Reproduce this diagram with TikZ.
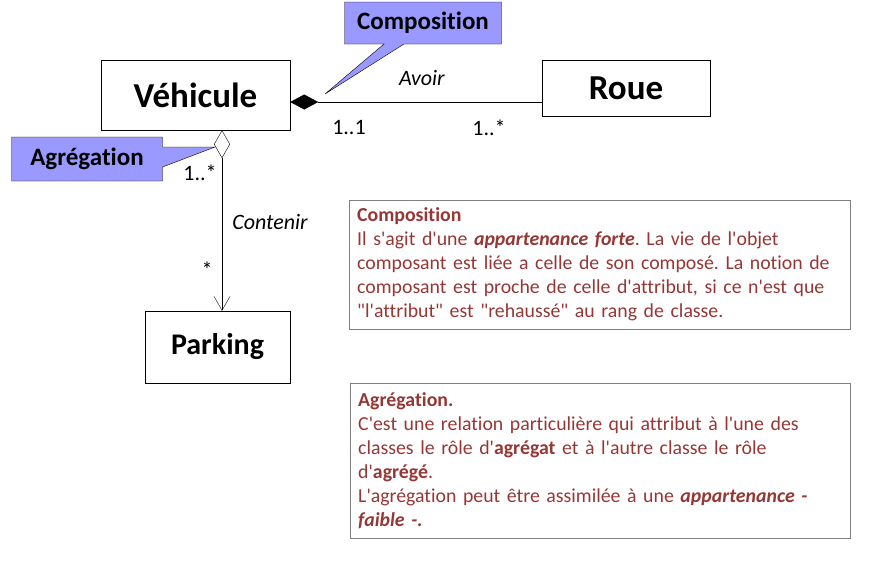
\documentclass[tikz,border=0pt]{standalone}
\usepackage{fontspec}
\setmainfont{Carlito}[Ligatures={TeXOff,NoCommon}]
\usepackage{xcolor}
\usetikzlibrary{arrows.meta,positioning,shapes.callouts,shapes.geometric}
\definecolor{calloutblue}{HTML}{9999FF}
\definecolor{notered}{HTML}{953735}
\definecolor{notegray}{HTML}{808080}
\frenchspacing

\begin{document}
\begin{tikzpicture}[
  x=1pt,y=-1pt,
  classbox/.style={draw,fill=white,align=center,font=\bfseries},
  callbox/.style={rectangle callout,draw=black,fill=calloutblue,inner sep=0pt,font=\fontsize{25}{30}\selectfont\bfseries,callout pointer width=20pt},
  notebox/.style={draw=notegray,anchor=north west,align=left,text=notered,text width=484pt,inner xsep=8pt,inner ysep=6pt,font=\fontsize{19.8}{24}\selectfont},
  mult/.style={font=\fontsize{22}{26}\selectfont},
  role/.style={font=\fontsize{22}{26}\selectfont\itshape},
  compo/.style={{Diamond[length=28pt,width=15pt]}-},
  aggreg/.style={{Diamond[open,length=28pt,width=16pt]}-{Straight Barb[length=14pt,width=16pt]}}
]
  \useasboundingbox (0,0) rectangle (886,565);

  % classes
  \node[classbox,minimum width=189pt,minimum height=70pt,font=\fontsize{35}{40}\selectfont\bfseries] (vehicule) at (195.5,95) {Véhicule};
  \node[classbox,minimum width=168pt,minimum height=56pt,font=\fontsize{35}{40}\selectfont\bfseries] (roue) at (626,88) {Roue};
  \node[classbox,minimum width=145pt,minimum height=72pt,font=\fontsize{30}{35}\selectfont\bfseries] (parking) at (217.5,347) {Parking};

  % associations
  \draw[compo] ([yshift=-7pt]vehicule.east) -- ([yshift=-7pt]vehicule.east -| roue.west);
  \draw[aggreg] ([xshift=26.5pt]vehicule.south) -- ([xshift=26.5pt]vehicule.south |- parking.north);

  \node[role] (avoir) at (422,78) {Avoir};
  \node[mult] (m11) at (349,128) {1..1};
  \node[mult] (m1n) at (489,128) {1..*};
  \node[mult] (m1v) at (200,173) {1..*};
  \node[role] (contenir) at (270,222) {Contenir};
  \node[mult] (mstar) at (207,270) {*};

  % callouts
  \node[callbox,minimum width=157pt,minimum height=42pt,callout absolute pointer={(325,94)}] (ccompo) at (423,23) {Composition};
  \node[callbox,minimum width=151pt,minimum height=44pt,callout absolute pointer={(215,147)}] (cagreg) at (87,159) {Agrégation};

  % notes
  \node[notebox,text width=485pt,minimum height=129pt] (ncompo) at (349,200) {\textbf{Composition}\\
    Il s'agit d'une \textbf{\textit{appartenance forte}}. La vie de l'objet\\
    composant est liée a celle de son composé. La notion de\\
    composant est proche de celle d'attribut, si ce n'est que\\
    "l'attribut" est "rehaussé" au rang de classe.};
  \node[notebox,minimum height=155pt] (nagreg) at (350,383) {\textbf{Agrégation.}\\
    C'est une relation particulière qui attribut à l'une des\\
    classes le rôle d'\textbf{agrégat} et à l'autre classe le rôle\\
    d'\textbf{agrégé}.\\
    L'agrégation peut être assimilée à une \textbf{\textit{appartenance -}}\\
    \textbf{\textit{faible -.}}};
\end{tikzpicture}
\end{document}
